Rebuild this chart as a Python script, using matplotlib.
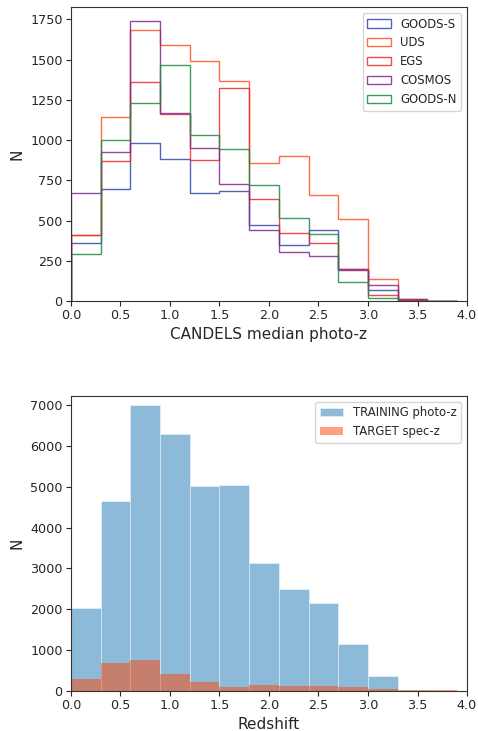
import numpy as np
import matplotlib
matplotlib.use('Agg')
import matplotlib.pyplot as plt

# bin edges (width 0.3)
edges = [0.0, 0.3, 0.6, 0.9, 1.2, 1.5, 1.8, 2.1, 2.4, 2.7, 3.0, 3.3, 3.6, 3.9]

# top panel: CANDELS fields
goods_s = [360, 697, 982, 880, 674, 684, 474, 347, 442, 197, 70, 6, 2]
uds     = [413, 1141, 1684, 1593, 1492, 1366, 856, 901, 657, 508, 139, 10, 2]
egs     = [413, 872, 1358, 1162, 877, 1323, 637, 420, 360, 198, 40, 7, 1]
cosmos  = [672, 928, 1738, 1170, 951, 725, 444, 306, 277, 192, 99, 12, 3]
goods_n = [290, 1001, 1228, 1469, 1029, 947, 719, 513, 418, 116, 17, 2, 0]

fields = ['GOODS-S', 'UDS', 'EGS', 'COSMOS', 'GOODS-N']
field_colors = ['#3548a8', '#ff5224', '#ee2a2a', '#7d2a8c', '#1e8a45']

# bottom panel
training = [2029, 4645, 7000, 6292, 5029, 5045, 3138, 2494, 2160, 1149, 375, 15, 0]
target = [285, 676, 766, 424, 228, 106, 139, 114, 114, 90, 57, 33, 24]

centers = (np.array(edges[:-1]) + np.array(edges[1:])) / 2

txt = '#262626'
plt.rcParams['font.family'] = 'DejaVu Sans'
plt.rcParams['text.color'] = txt
plt.rcParams['axes.labelcolor'] = txt
plt.rcParams['xtick.color'] = txt
plt.rcParams['ytick.color'] = txt
plt.rcParams['axes.edgecolor'] = '#333333'

fig = plt.figure(figsize=(4.78, 7.31), dpi=100)
ax1 = fig.add_axes([0.1485, 0.5882, 0.8285, 0.4022])
ax2 = fig.add_axes([0.1485, 0.0547, 0.8285, 0.4036])

for vals, name, c in zip([goods_s, uds, egs, cosmos, goods_n], fields, field_colors):
    ax1.hist(centers, bins=edges, weights=vals, histtype='step', color=c,
             lw=1.0, alpha=0.85, label=name)
ax1.set_xlim(0, 4)
ax1.set_ylim(0, 1827)
ax1.set_yticks(np.arange(0, 1751, 250))
ax1.set_xlabel('CANDELS median photo-z', fontsize=11, labelpad=3)
ax1.set_ylabel('N', fontsize=11)
ax1.legend(loc='upper right', fontsize=8.4, handlelength=2.0)

ax2.hist(centers, bins=edges, weights=training, color='#1f77b4', alpha=0.5,
         label='TRAINING photo-z', ec=(1, 1, 1, 0.6), lw=0.6)
ax2.hist(centers, bins=edges, weights=target, color='orangered', alpha=0.5,
         label='TARGET spec-z')
ax2.set_xlim(0, 4)
ax2.set_ylim(0, 7220)
ax2.set_xlabel('Redshift', fontsize=11, labelpad=3)
ax2.set_ylabel('N', fontsize=11)
ax2.legend(loc='upper right', fontsize=8.4)

for ax in (ax1, ax2):
    ax.tick_params(labelsize=9.2, length=3.5, width=0.8, pad=2.5)
    for s in ax.spines.values():
        s.set_linewidth(0.8)

fig.savefig('out.png', dpi=100)
